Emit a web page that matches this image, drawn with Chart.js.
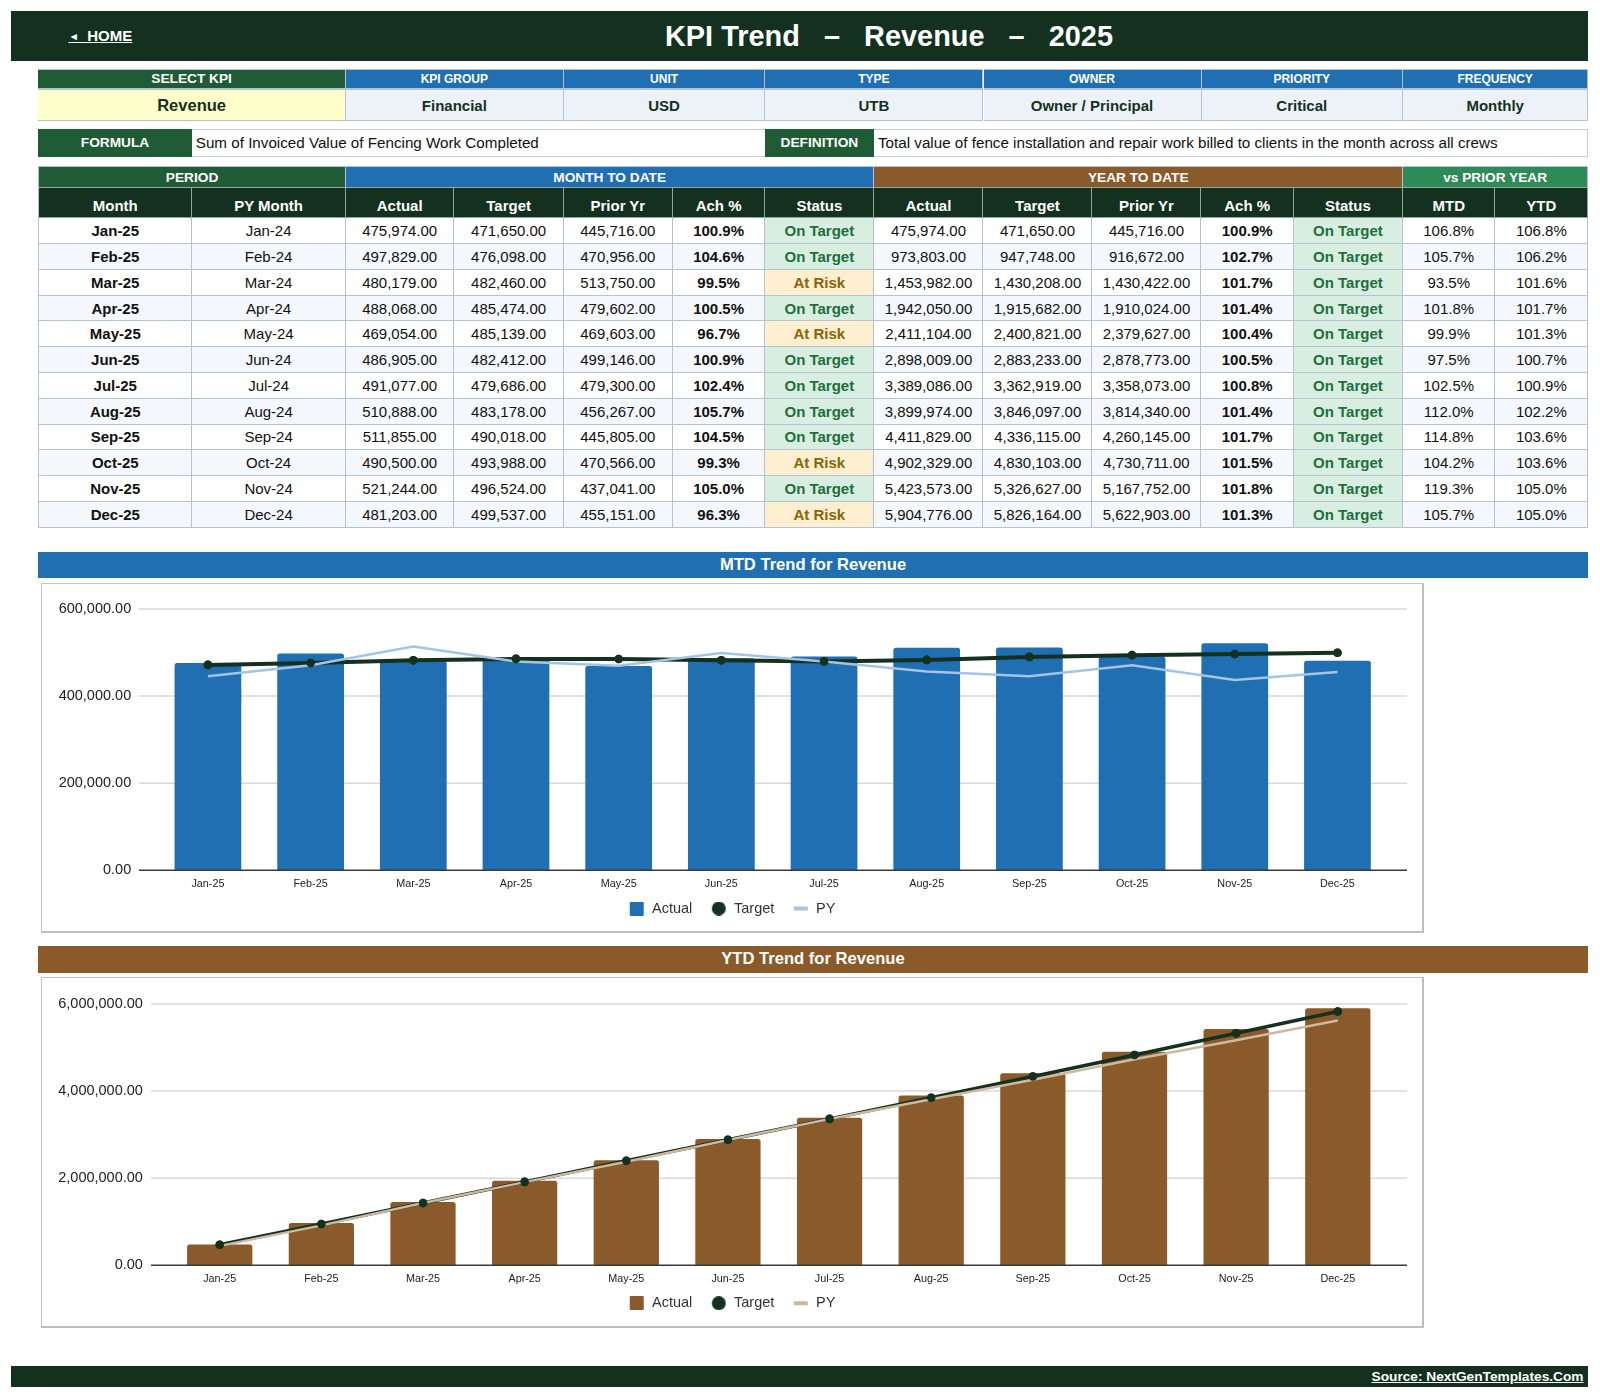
<!DOCTYPE html>
<html><head><meta charset="utf-8">
<script src="https://cdn.jsdelivr.net/npm/chart.js@4"></script>
<style>
html,body{margin:0;padding:0;background:#fff;width:1600px;height:1399px;overflow:hidden;font-family:"Liberation Sans",Arial,sans-serif;color:#111}
.abs{position:absolute;box-sizing:border-box;display:flex;align-items:center;justify-content:center;white-space:pre}
#grid{position:absolute;display:grid;left:38.3px;top:166.4px;border-top:1px solid #b4c3d2;border-left:1px solid #b4c3d2;box-sizing:content-box}
#grid>div{box-sizing:border-box;display:flex;align-items:center;justify-content:center;font-size:15px;border-right:1px solid #b4c3d2;border-bottom:1px solid #b4c3d2;white-space:pre;color:#111}
.card{position:absolute;box-sizing:border-box;background:#fff;border:1.5px solid #c4c4c4;border-bottom:2px solid #bdbdbd;border-right:2px solid #bdbdbd}
canvas{position:absolute;display:block}
</style></head><body>
<div id="page"></div>
<div id="grid"></div>
<div class="card" style="left:41px;top:583px;width:1383px;height:350px"></div>
<canvas id="mtd" width="1383" height="350" style="left:41px;top:583px"></canvas>
<div class="card" style="left:41px;top:977px;width:1383px;height:351px"></div>
<canvas id="ytd" width="1383" height="351" style="left:41px;top:977px"></canvas>
<script>
const months=["Jan-25","Feb-25","Mar-25","Apr-25","May-25","Jun-25","Jul-25","Aug-25","Sep-25","Oct-25","Nov-25","Dec-25"];
const pyMonths=["Jan-24","Feb-24","Mar-24","Apr-24","May-24","Jun-24","Jul-24","Aug-24","Sep-24","Oct-24","Nov-24","Dec-24"];
const mtdActual=[475974,497829,480179,488068,469054,486905,491077,510888,511855,490500,521244,481203];
const mtdTarget=[471650,476098,482460,485474,485139,482412,479686,483178,490018,493988,496524,499537];
const mtdPrior=[445716,470956,513750,479602,469603,499146,479300,456267,445805,470566,437041,455151];
const mtdAch=[100.9,104.6,99.5,100.5,96.7,100.9,102.4,105.7,104.5,99.3,105.0,96.3];
const mtdStatus=["On Target","On Target","At Risk","On Target","At Risk","On Target","On Target","On Target","On Target","At Risk","On Target","At Risk"];
const ytdActual=[475974,973803,1453982,1942050,2411104,2898009,3389086,3899974,4411829,4902329,5423573,5904776];
const ytdTarget=[471650,947748,1430208,1915682,2400821,2883233,3362919,3846097,4336115,4830103,5326627,5826164];
const ytdPrior=[445716,916672,1430422,1910024,2379627,2878773,3358073,3814340,4260145,4730711,5167752,5622903];
const ytdAch=[100.9,102.7,101.7,101.4,100.4,100.5,100.8,101.4,101.7,101.5,101.8,101.3];
const ytdStatus=["On Target","On Target","On Target","On Target","On Target","On Target","On Target","On Target","On Target","On Target","On Target","On Target"];
const vsMtd=[106.8,105.7,93.5,101.8,99.9,97.5,102.5,112.0,114.8,104.2,119.3,105.7];
const vsYtd=[106.8,106.2,101.6,101.7,101.3,100.7,100.9,102.2,103.6,103.6,105.0,105.0];
const metaHeads=["SELECT KPI","KPI GROUP","UNIT","TYPE","OWNER","PRIORITY","FREQUENCY"];
const metaVals=["Revenue","Financial","USD","UTB","Owner / Principal","Critical","Monthly"];
const colHeads=["Month","PY Month","Actual","Target","Prior Yr","Ach %","Status","Actual","Target","Prior Yr","Ach %","Status","MTD","YTD"];
const bandHeads=["PERIOD","MONTH TO DATE","YEAR TO DATE","vs PRIOR YEAR"];
const formulaText="Sum of Invoiced Value of Fencing Work Completed";
const definitionText="Total value of fence installation and repair work billed to clients in the month across all crews";

const DARK="#14301f",GREEN="#1f5c36",BLUE="#216fb3",BROWN="#8b5a2b",SEA="#2e8b57",LINE="#b4c3d2";
const edges=[38.3,191.8,345.4,454,563.3,672.4,764.8,874,983,1092,1201,1293.4,1402.6,1495,1587.8];
const metaEdges=[38.3,345.9,563.8,765.3,983.5,1201.5,1403.1,1588.3];
const page=document.getElementById('page');
function box(l,t,r,b,txt,st){const d=document.createElement('div');d.className='abs';d.textContent=txt||'';
 d.style.cssText=`left:${l}px;top:${t}px;width:${r-l}px;height:${b-t}px;`+(st||'');page.appendChild(d);return d;}
box(11,11,1588,61,'','background:'+DARK);
box(189,11,1589,61,'KPI Trend   –   Revenue   –   2025','color:#fff;font-weight:700;font-size:28.9px');
const home=box(68.5,24,135,47,'','color:#fff;font-weight:700;font-size:15px;text-decoration:underline;justify-content:flex-start');
home.innerHTML='<span><span style="font-size:10.5px;vertical-align:1px">◄</span>  HOME</span>';
metaHeads.forEach((h,i)=>{const l=metaEdges[i],r=metaEdges[i+1];
 box(l,68.5,r,89.5,h,`background:${i?BLUE:GREEN};color:#fff;font-weight:700;font-size:${i?12:13.7}px;border:1px solid ${LINE};border-width:1px 1px 2px 0`);
 box(l,89.5,r,120.5,metaVals[i],`background:${i?'#edf2f9':'#ffffcc'};color:#14301f;font-weight:700;font-size:${i?15:16.5}px;padding-top:1px;border:1px solid ${LINE};border-width:0 1px 1.5px 0`);
});
box(38.3,128.5,1587.8,157,'','border:1.5px solid #c6ced8');
box(38.3,128.5,191.8,157,'FORMULA',`background:${GREEN};color:#fff;font-weight:700;font-size:13.7px;padding-bottom:1px`);
box(191.8,128.5,764.8,157,formulaText,'justify-content:flex-start;padding-left:4px;font-size:15.2px;color:#111');
box(764.8,128.5,874,157,'DEFINITION',`background:${GREEN};color:#fff;font-weight:700;font-size:13.7px;padding-bottom:1px`);
box(874,128.5,1587.8,157,definitionText,'justify-content:flex-start;padding-left:4px;font-size:15.2px;color:#111');
box(38,551.5,1588,578,'MTD Trend for Revenue',`background:${BLUE};color:#fff;font-weight:700;font-size:16.6px`);
box(38,946,1588,972.5,'YTD Trend for Revenue',`background:${BROWN};color:#fff;font-weight:700;font-size:16.6px`);
box(11,1365.5,1588,1387,'Source: NextGenTemplates.Com',`background:${DARK};color:#fff;font-weight:700;font-size:13.7px;text-decoration:underline;justify-content:flex-end;padding-right:4.5px`);

const grid=document.getElementById('grid');
grid.style.gridTemplateColumns=edges.slice(1).map((e,i)=>(e-edges[i]-(i==0?0.5:0)).toFixed(1)+'px').join(' ');
grid.style.gridTemplateRows='20.5px 30.5px repeat(12,25.77px)';
function cell(txt,cs,st){const d=document.createElement('div');d.textContent=txt;if(cs>1)d.style.gridColumn='span '+cs;d.style.cssText+=st||'';grid.appendChild(d);}
const num=v=>v.toLocaleString('en-US',{minimumFractionDigits:2,maximumFractionDigits:2});
const pct=v=>v.toFixed(1)+'%';
[[2,GREEN],[5,BLUE],[5,BROWN],[2,SEA]].forEach((b,i)=>cell(bandHeads[i],b[0],`background:${b[1]};color:#fff;font-weight:700;font-size:13.7px;border-bottom:1.5px solid #9aa7a0`));
colHeads.forEach(h=>cell(h,1,`background:${DARK};color:#fff;font-weight:700;font-size:15px;padding-top:6px;border-right-color:#8fa39a;border-bottom-color:#8fa39a`));
function status(s){return s=="At Risk"?'background:#fdefcf;color:#8a6408;font-weight:700':'background:#d8eee0;color:#1d6f3d;font-weight:700';}
months.forEach((m,i)=>{const bg=i%2?'background:#f4f7fb;':'background:#fff;';
 cell(m,1,bg+'font-weight:700');cell(pyMonths[i],1,bg);
 cell(num(mtdActual[i]),1,bg);cell(num(mtdTarget[i]),1,bg);cell(num(mtdPrior[i]),1,bg);
 cell(pct(mtdAch[i]),1,bg+'font-weight:700');cell(mtdStatus[i],1,status(mtdStatus[i]));
 cell(num(ytdActual[i]),1,bg);cell(num(ytdTarget[i]),1,bg);cell(num(ytdPrior[i]),1,bg);
 cell(pct(ytdAch[i]),1,bg+'font-weight:700');cell(ytdStatus[i],1,status(ytdStatus[i]));
 cell(pct(vsMtd[i]),1,bg);cell(pct(vsYtd[i]),1,bg);
});

const LEGEND_PAD=12.5,ICON_W=22,ICON_X=7,LEGEND_FONT=14.5;
function icon(kind,color){const c=document.createElement('canvas');c.width=ICON_W;c.height=14;const x=c.getContext('2d');x.fillStyle=color;x.translate(ICON_X,0);
 if(kind=='rect'){x.beginPath();x.roundRect(0,0,14,14,1);x.fill();}
 else if(kind=='circle'){x.beginPath();x.arc(7,7,7,0,Math.PI*2);x.fill();}
 else{x.fillRect(0,5,14,4);}
 return c;}
const extGrid={id:'extGrid',
 afterLayout(ch,a,o){const l=ch.legend;l.top=o.legendY-LEGEND_PAD-LEGEND_FONT/2;l.left=0;l.right=o.legendSum-LEGEND_PAD;},
 beforeDatasetsDraw(ch,a,o){const y=ch.scales.y,c=ch.ctx;c.save();
  y.ticks.forEach(t=>{if(t.value===0)return;const p=y.getPixelForValue(t.value);c.strokeStyle='#d9d9d9';c.lineWidth=1.5;c.beginPath();c.moveTo(o.left,p);c.lineTo(o.right,p);c.stroke();});c.restore();},
 afterDatasetsDraw(ch,a,o){const y=ch.scales.y,c=ch.ctx,p=y.getPixelForValue(0);c.save();c.strokeStyle='#3a3a3a';c.lineWidth=1.5;c.beginPath();c.moveTo(o.left,p);c.lineTo(o.right,p);c.stroke();c.restore();
  ch.getDatasetMeta(1).data.forEach(pt=>pt.draw(c,ch.chartArea));}};
function build(id,actual,target,prior,barColor,pyColor,step,max,opt){
 const icons=[icon('rect',barColor),icon('circle',DARK),icon('line',pyColor)];
 const ch=new Chart(document.getElementById(id),{
  data:{labels:months,datasets:[
   {type:'bar',label:'Actual',data:actual,backgroundColor:barColor,barPercentage:opt.bar,categoryPercentage:1,borderRadius:{topLeft:2.5,topRight:2.5},borderSkipped:'bottom',order:3},
   {type:'line',label:'Target',data:target,borderColor:DARK,backgroundColor:DARK,borderWidth:opt.tw,pointRadius:4.3,pointBackgroundColor:DARK,pointBorderWidth:0,tension:0,order:2},
   {type:'line',label:'PY',data:prior,borderColor:pyColor,backgroundColor:pyColor,borderWidth:2.5,pointRadius:0,tension:0,order:1}]},
  options:{responsive:false,animation:false,devicePixelRatio:1,
   layout:{padding:{left:0,right:opt.area.r,top:opt.area.t,bottom:0}},
   plugins:{title:{display:false},tooltip:{enabled:false},extGrid:{left:opt.gl,right:opt.gr,legendY:opt.legendY,legendSum:1388.6},
    legend:{position:'bottom',labels:{usePointStyle:true,pointStyleWidth:ICON_W,color:'#333',font:{family:'"Liberation Sans"',size:LEGEND_FONT},padding:LEGEND_PAD,
     generateLabels(ch){return Chart.defaults.plugins.legend.labels.generateLabels(ch).sort((a,b)=>a.datasetIndex-b.datasetIndex).map(l=>({...l,pointStyle:icons[l.datasetIndex],lineWidth:0}));}}}},
   scales:{
    x:{offset:true,grid:{display:false,drawTicks:false},border:{display:false},
     ticks:{color:'#222',font:{family:'"Liberation Sans"',size:10.8},padding:7,maxRotation:0,autoSkip:false},
     afterFit(s){s.height=26;}},
    y:{min:0,max:max,grid:{display:false,drawTicks:true,tickLength:opt.tl},border:{display:false},
     ticks:{stepSize:step,color:'#222',font:{family:'"Liberation Sans"',size:14.5},padding:3,callback:v=>num(v)},
     afterFit(s){s.width=opt.yw;}}}},
  plugins:[extGrid]});
 // settle the layout padding so the plot area lands where the reference has it
 for(let k=0;k<4;k++){const a=ch.chartArea,p=ch.options.layout.padding;
  p.top+=opt.area.t-a.top;p.bottom+=a.bottom-opt.area.b;p.right+=a.right-opt.area.rx;ch.update();}
}
build('mtd',mtdActual,mtdTarget,mtdPrior,BLUE,'#a3c4e3',200000,600000,{bar:.65,area:{t:26,b:287.3,r:35.5,rx:1347.8},legendY:325.5,yw:115.6,tl:22.4,gl:98,gr:1366,tw:4});
build('ytd',ytdActual,ytdTarget,ytdPrior,BROWN,'#cdb8a0',2000000,6000000,{bar:.642,area:{t:27,b:288.3,r:34.9,rx:1347.6},legendY:326.2,yw:127.9,tl:23,gl:110,gr:1366,tw:3.5});
</script>
</body></html>
